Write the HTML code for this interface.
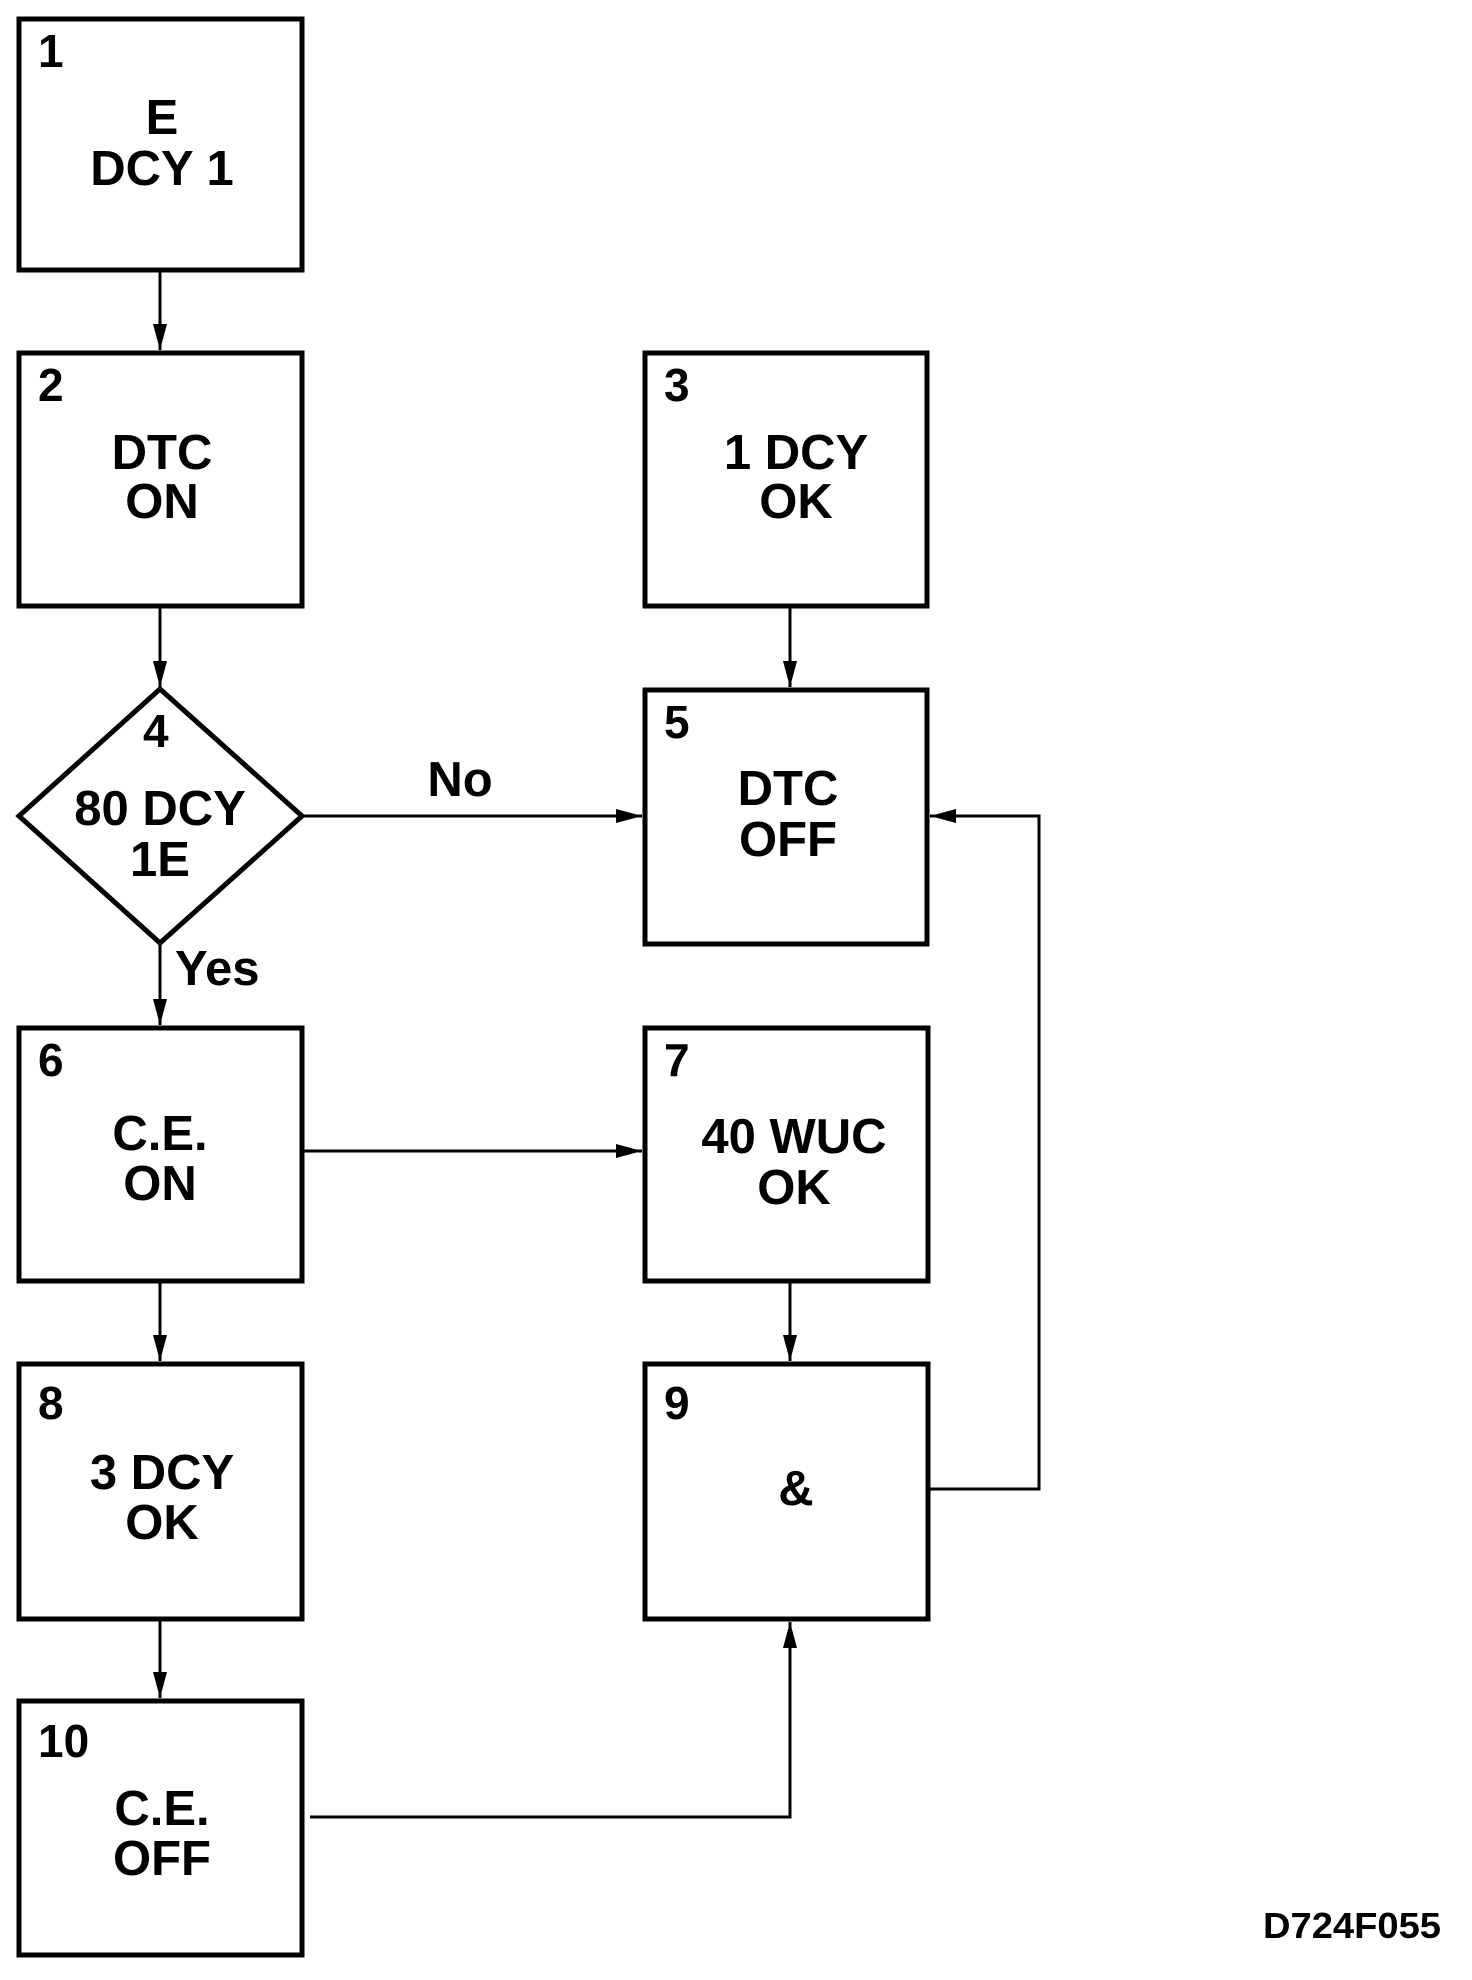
<!DOCTYPE html>
<html><head><meta charset="utf-8"><style>
html,body{margin:0;padding:0;background:#fff;}
svg{display:block;}
text{font-family:"Liberation Sans",Arial,sans-serif;font-weight:bold;fill:#000;}
.t{font-size:49px;text-anchor:middle;}
.n{font-size:46px;}
</style></head><body>
<svg width="1472" height="1980" viewBox="0 0 1472 1980" xmlns="http://www.w3.org/2000/svg">
<defs>
<marker id="a" viewBox="0 0 26 14" refX="26" refY="7" markerWidth="26" markerHeight="14" markerUnits="userSpaceOnUse" orient="auto">
<path d="M0,0 L26,7 L0,14 Z" fill="#000"/>
</marker>
</defs>
<g fill="none" stroke="#000" stroke-width="5">
<rect x="19" y="19" width="283" height="251"/>
<rect x="19" y="353" width="283" height="253"/>
<rect x="645" y="353" width="282" height="253"/>
<rect x="645" y="690" width="282" height="254"/>
<polygon points="19,816 160,689 302,816 160,943"/>
<rect x="19" y="1028" width="283" height="253"/>
<rect x="645" y="1028" width="283" height="253"/>
<rect x="19" y="1364" width="283" height="255"/>
<rect x="645" y="1364" width="283" height="255"/>
<rect x="19" y="1701" width="283" height="254"/>
</g>
<g fill="none" stroke="#000" stroke-width="3">
<line x1="160" y1="270" x2="160" y2="350" marker-end="url(#a)"/>
<line x1="160" y1="606" x2="160" y2="687" marker-end="url(#a)"/>
<line x1="790" y1="606" x2="790" y2="687" marker-end="url(#a)"/>
<line x1="302" y1="816" x2="642" y2="816" marker-end="url(#a)"/>
<line x1="160" y1="943" x2="160" y2="1025" marker-end="url(#a)"/>
<line x1="302" y1="1151" x2="642" y2="1151" marker-end="url(#a)"/>
<line x1="160" y1="1281" x2="160" y2="1361" marker-end="url(#a)"/>
<line x1="790" y1="1281" x2="790" y2="1361" marker-end="url(#a)"/>
<line x1="160" y1="1619" x2="160" y2="1698" marker-end="url(#a)"/>
<polyline points="928,1489 1039,1489 1039,816 930,816" marker-end="url(#a)"/>
<polyline points="310,1817 790,1817 790,1622" marker-end="url(#a)"/>
</g>
<text class="n" x="38" y="67">1</text>
<text class="t" x="162" y="134">E</text>
<text class="t" x="162" y="185">DCY 1</text>
<text class="n" x="38" y="401">2</text>
<text class="t" x="162" y="469">DTC</text>
<text class="t" x="162" y="518">ON</text>
<text class="n" x="664" y="401">3</text>
<text class="t" x="796" y="469">1 DCY</text>
<text class="t" x="796" y="518">OK</text>
<text class="n" x="664" y="738">5</text>
<text class="t" x="788" y="805">DTC</text>
<text class="t" x="788" y="856">OFF</text>
<text class="n" x="143" y="747">4</text>
<text class="t" x="160" y="825">80 DCY</text>
<text class="t" x="160" y="876">1E</text>
<text class="t" x="460" y="796">No</text>
<text class="t" x="175" y="985" style="text-anchor:start">Yes</text>
<text class="n" x="38" y="1076">6</text>
<text class="t" x="160" y="1150">C.E.</text>
<text class="t" x="160" y="1200">ON</text>
<text class="n" x="664" y="1076">7</text>
<text class="t" x="794" y="1153">40 WUC</text>
<text class="t" x="794" y="1204">OK</text>
<text class="n" x="38" y="1419">8</text>
<text class="t" x="162" y="1489">3 DCY</text>
<text class="t" x="162" y="1539">OK</text>
<text class="n" x="664" y="1419">9</text>
<text class="t" x="796" y="1505">&amp;</text>
<text class="n" x="38" y="1757">10</text>
<text class="t" x="162" y="1825">C.E.</text>
<text class="t" x="162" y="1875">OFF</text>
<text x="1263" y="1938" textLength="178" lengthAdjust="spacingAndGlyphs" style="font-size:36px;">D724F055</text>
</svg>
</body></html>
